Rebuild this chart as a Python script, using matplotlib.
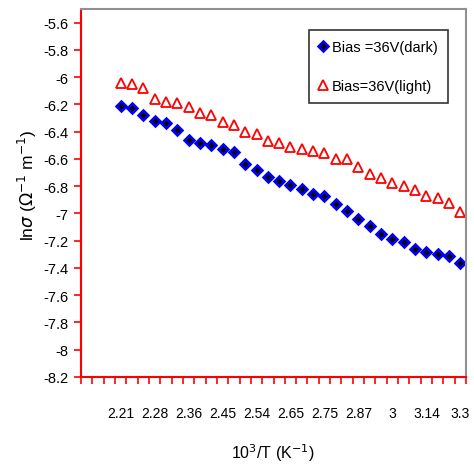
import matplotlib
matplotlib.use("Agg")
import matplotlib.pyplot as plt
import numpy as np

plt.rcParams['font.family'] = ['Liberation Sans', 'DejaVu Sans']

x_labels = ["2.21", "2.28", "2.36", "2.45", "2.54", "2.65", "2.75", "2.87", "3", "3.14", "3.3"]
dark = [-6.21, -6.23, -6.28, -6.32, -6.34, -6.39, -6.46, -6.48, -6.50, -6.53, -6.55,
        -6.64, -6.68, -6.73, -6.76, -6.79, -6.82, -6.86, -6.87, -6.93, -6.98,
        -7.04, -7.09, -7.15, -7.19, -7.21, -7.26, -7.28, -7.30, -7.31, -7.36]
light = [-6.04, -6.05, -6.08, -6.16, -6.18, -6.19, -6.22, -6.26, -6.28, -6.33, -6.35,
         -6.40, -6.42, -6.47, -6.48, -6.51, -6.53, -6.54, -6.56, -6.60, -6.60,
         -6.66, -6.71, -6.74, -6.78, -6.80, -6.83, -6.87, -6.89, -6.92, -6.99]
y_ticks = [-8.2, -8, -7.8, -7.6, -7.4, -7.2, -7, -6.8, -6.6, -6.4, -6.2, -6, -5.8, -5.6]

W, H = 474, 477
fig = plt.figure(figsize=(W / 100, H / 100), dpi=100)
ax = fig.add_axes([81 / W, 1 - 378 / H, (466 - 81) / W, (378 - 10) / H])

idx = np.arange(len(dark))
ax.plot(idx, dark, linestyle='none', marker='D', ms=5.5, mfc='black', mec='blue', mew=1.8,
        label='Bias =36V(dark)')
ax.plot(idx, light, linestyle='none', marker='^', ms=7, mfc='white', mec='red', mew=1.3,
        label='Bias=36V(light)')

ax.set_xlim(-3.5, len(dark) - 0.5)
ax.set_ylim(-8.2, -5.5)
ax.set_yticks(y_ticks)
ax.set_yticklabels([f"{v:g}" for v in y_ticks], fontsize=10.5)

ax.set_xticks(np.arange(0, len(dark), 3))
ax.set_xticklabels(x_labels, fontsize=10)
ax.set_xticks(np.arange(-3.5, len(dark), 1.0), minor=True)
ax.tick_params(axis='x', which='major', length=0, pad=21)
ax.tick_params(axis='x', which='minor', length=5, color='red', width=1.2, direction='out')
ax.tick_params(axis='y', which='major', length=5, color='red', width=1.2, direction='out', pad=4)

for s in ['left', 'bottom']:
    ax.spines[s].set_color('red')
    ax.spines[s].set_linewidth(1.5)
for s in ['top', 'right']:
    ax.spines[s].set_color('#909090')
    ax.spines[s].set_linewidth(1.5)

fig.text(273 / W, 1 - 453 / H, r"10$^{3}$/T (K$^{-1}$)", ha='center', va='center', fontsize=11.5)
fig.text(27 / W, 1 - 185 / H, r"ln$\sigma$ ($\Omega^{-1}$ m$^{-1}$)", ha='center', va='center',
         rotation=90, fontsize=12.5)

leg = ax.legend(loc='upper right', bbox_to_anchor=(448 / W, 1 - 31 / H), bbox_transform=fig.transFigure,
                fontsize=10.5, frameon=True, fancybox=False, labelspacing=1.7, handlelength=0.6,
                handletextpad=0.3, borderpad=0.7, borderaxespad=0)
leg.get_frame().set_edgecolor('black')
leg.get_frame().set_linewidth(1.2)

fig.savefig('out.png', dpi=100)
